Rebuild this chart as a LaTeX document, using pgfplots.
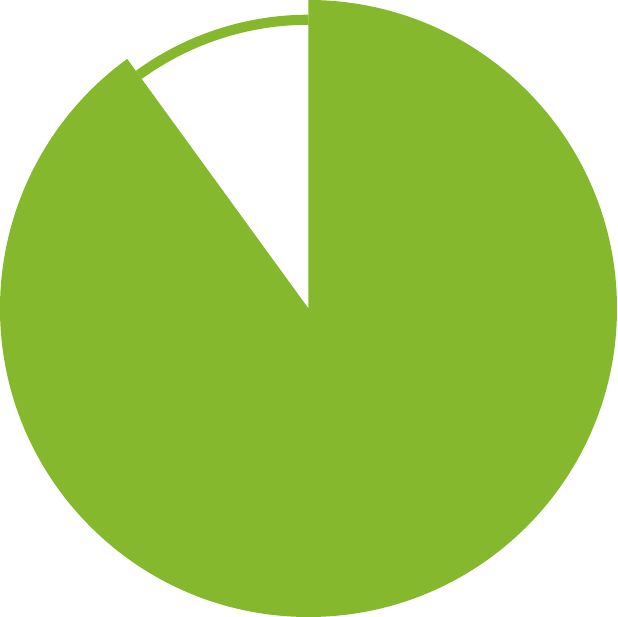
\documentclass[border=0pt]{standalone}
\usepackage{pgfplots}
\pgfplotsset{compat=1.18}
\definecolor{pieGreen}{RGB}{133,184,45}
\begin{document}
\begin{tikzpicture}
  % shares of the pie (percent)
  \def\filledshare{90}
  \def\restshare{10}
  \pgfmathsetmacro{\endangle}{90-3.6*\filledshare}
  \begin{axis}[
      hide axis,
      scale only axis,
      width=6cm, height=6cm,
      xmin=-1, xmax=1, ymin=-1, ymax=1,
      clip=false,
    ]
    \addplot[draw=none, forget plot] coordinates {(0,0)};
    % filled slice, clockwise from 12 o'clock
    \fill[pieGreen] (axis cs:0,0) -- (axis cs:0,1)
      arc[start angle=90, end angle=\endangle, radius=3cm] -- cycle;
    % remaining share as a thin ring
    \draw[pieGreen, line width=0.098cm] (axis cs:0,0.936)
      arc[start angle=90, end angle=\endangle+360, radius=0.936*3cm];
  \end{axis}
\end{tikzpicture}
\end{document}
